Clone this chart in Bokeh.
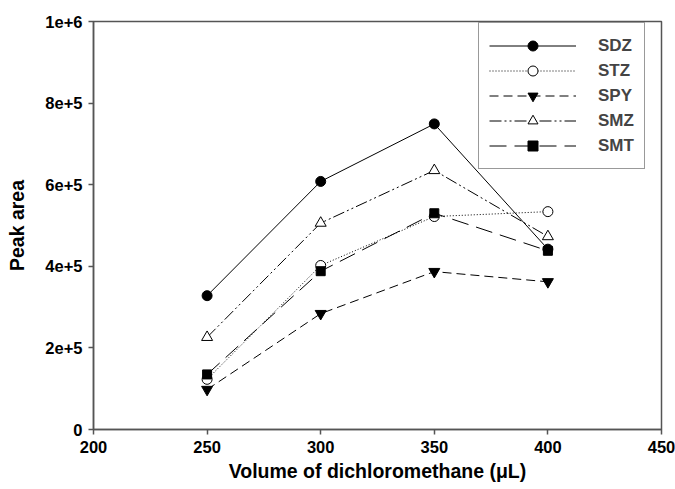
from bokeh.plotting import figure
from bokeh.models import FixedTicker, Legend, LegendItem
from bokeh.embed import file_html
from bokeh.resources import INLINE

volumes = [250, 300, 350, 400]
sdz = [3.28e5, 6.08e5, 7.49e5, 4.42e5]
stz = [1.23e5, 4.02e5, 5.22e5, 5.34e5]
spy = [0.98e5, 2.84e5, 3.87e5, 3.62e5]
smz = [2.26e5, 5.06e5, 6.35e5, 4.73e5]
smt = [1.35e5, 3.88e5, 5.30e5, 4.38e5]

x_ticks = [200, 250, 300, 350, 400, 450]
y_ticks = [0, 2e5, 4e5, 6e5, 8e5, 1e6]
y_tick_labels = ["0", "2e+5", "4e+5", "6e+5", "8e+5", "1e+6"]

FONT = "Liberation Sans"
AXC = "#555555"

p = figure(width=675, height=489, output_backend="svg", toolbar_location=None,
           x_range=(200, 450), y_range=(0, 1e6),
           min_border_left=93, min_border_right=14, min_border_top=21, min_border_bottom=60)
p.xgrid.visible = False
p.ygrid.visible = False
p.outline_line_color = AXC
p.outline_line_width = 1.5
p.background_fill_color = "white"
p.border_fill_color = "white"

for ax in (p.xaxis[0], p.yaxis[0]):
    ax.axis_line_color = AXC
    ax.axis_line_width = 1.5
    ax.major_tick_line_color = AXC
    ax.major_tick_line_width = 1.5
    ax.major_tick_in = 0
    ax.major_tick_out = 5
    ax.minor_tick_line_color = None
    ax.major_label_text_font = FONT
    ax.major_label_text_font_style = "bold"
    ax.major_label_text_font_size = "16.5px"
    ax.major_label_text_color = "black"
    ax.axis_label_text_font = FONT
    ax.axis_label_text_font_style = "bold"
    ax.axis_label_text_font_size = "19.5px"
    ax.axis_label_text_color = "black"
    ax.major_label_standoff = 6

p.xaxis[0].ticker = FixedTicker(ticks=x_ticks)
p.yaxis[0].ticker = FixedTicker(ticks=y_ticks)
p.yaxis[0].major_label_overrides = {t: l for t, l in zip(y_ticks, y_tick_labels)}
p.xaxis[0].axis_label = "Volume of dichloromethane (\u03bcL)"
p.yaxis[0].axis_label = "Peak area"
p.xaxis[0].axis_label_standoff = 4
p.yaxis[0].axis_label_standoff = 14

series = [
    ("SDZ", sdz, None, "circle", "black", 10),
    ("STZ", stz, "1 2", "circle", "white", 10),
    ("SPY", spy, "9 5", "inverted_triangle", "black", 11),
    ("SMZ", smz, "12 3 2 3 2 3", "triangle", "white", 11),
    ("SMT", smt, "17 8", "square", "black", 9),
]

items = []
for name, ys, dash, marker, fill, size in series:
    kw = {}
    if dash:
        kw["line_dash"] = dash
    ln = p.line(volumes, ys, line_color="black", line_width=1, **kw)
    sc = p.scatter(volumes, ys, marker=marker, size=size, fill_color=fill,
                   line_color="black", line_width=1)
    items.append(LegendItem(label=name, renderers=[ln, sc]))

legend = Legend(items=items, location=(385, 260))
legend.glyph_width = 87
legend.glyph_height = 25
legend.label_height = 25
legend.spacing = 0
legend.padding = 10
legend.margin = 0
legend.label_standoff = 22
legend.label_text_font = FONT
legend.label_text_font_style = "bold"
legend.label_text_font_size = "17px"
legend.border_line_color = "#333333"
legend.border_line_width = 1.5
legend.background_fill_color = "white"
legend.background_fill_alpha = 1
p.add_layout(legend, "center")

open("out.html", "w").write(file_html(p, INLINE))
